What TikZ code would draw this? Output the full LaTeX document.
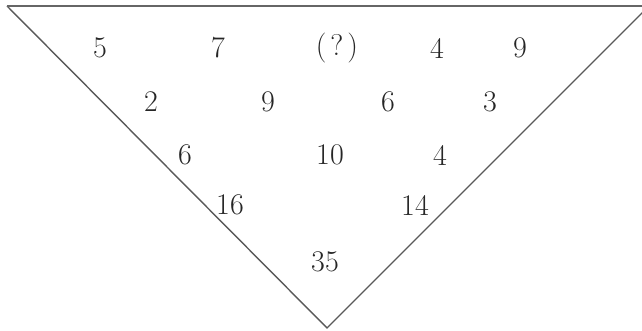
\documentclass[tikz,border=0pt]{standalone}
\begin{document}
\begin{tikzpicture}[x=1pt,y=1pt,
  num/.style={font=\fontsize{30}{36}\selectfont, text=black!85, inner sep=0pt},
  edge/.style={draw=black!65, line width=1.4pt}]
\useasboundingbox (0,0) rectangle (642,331);
\begin{scope}
\clip (0,0) rectangle (642,331);
\coordinate (tl) at (7,325);
\coordinate (ap) at (327,3);
\coordinate (tr) at (649,325);
\draw[edge] (tl) -- (ap) -- (tr);
\draw[draw=black!60, line width=2.6pt] (tl) -- (645,325);
\end{scope}
% row 1
\node[num] (a1) at (100,283) {5};
\node[num] (a2) at (218,283) {7};
\node[num] (a3) at (337,283) {(\kern4pt?\kern4pt)};
\node[num] (a4) at (437,283) {4};
\node[num] (a5) at (520,283) {9};
% row 2
\node[num] (b1) at (151,229) {2};
\node[num] (b2) at (268,229) {9};
\node[num] (b3) at (388,229) {6};
\node[num] (b4) at (490,229) {3};
% row 3
\node[num] (c1) at (185,176) {6};
\node[num] (c2) at (330,176) {10};
\node[num] (c3) at (440,176) {4};
% row 4
\node[num] (d1) at (230,126) {16};
\node[num] (d2) at (415,126) {14};
% row 5
\node[num] (e1) at (325,69) {35};
\end{tikzpicture}
\end{document}
